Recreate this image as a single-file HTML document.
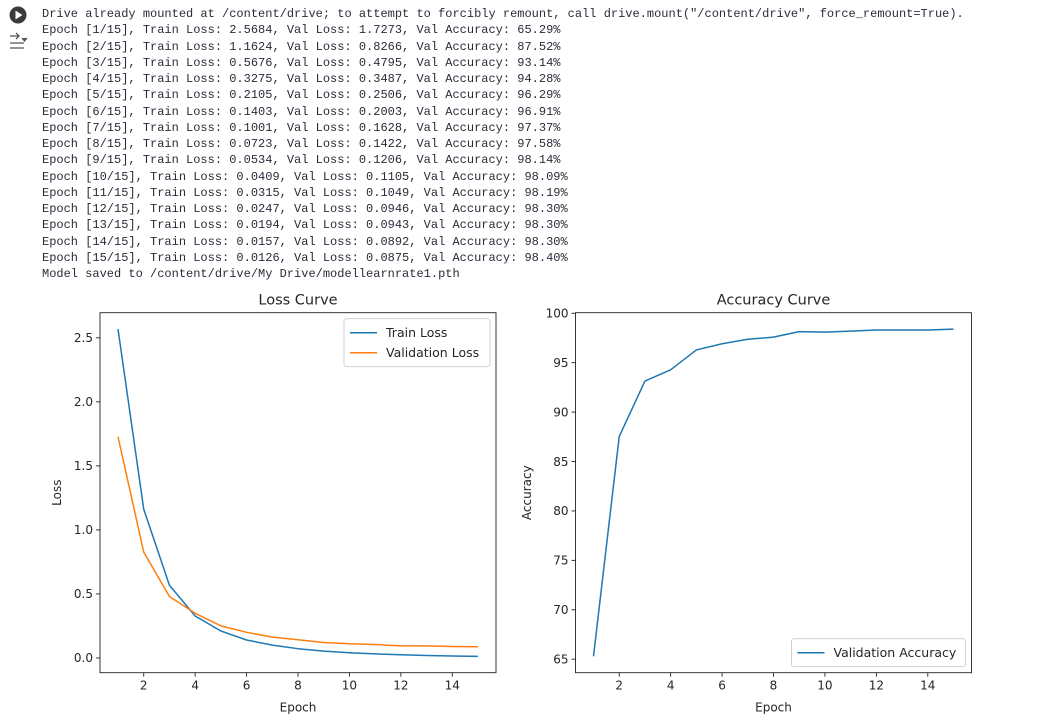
<!DOCTYPE html>
<html><head><meta charset="utf-8">
<style>
html,body{margin:0;padding:0;background:#fff;width:1063px;height:718px;overflow:hidden}
#out{position:absolute;left:42px;top:6px;font-family:"Liberation Mono",monospace;font-size:12px;line-height:16.25px;color:#2b2b3a;white-space:pre}
svg{position:absolute;left:0;top:0}
text{font-family:"DejaVu Sans","Liberation Sans",sans-serif;fill:#262626}
</style></head><body>
<svg width="40" height="60">
<circle cx="18" cy="15" r="8.5" fill="#3a3a3a"/>
<polygon points="15.5,10.5 15.5,19.5 22.5,15" fill="#fff"/>
<g stroke="#555" stroke-width="1.3" fill="none">
<path d="M10 36 H19 M16 33 L19 36 L16 39 M10 43 H24 M10 48 H24"/><path d="M22 38 L24.5 41 L27 38" fill="#555"/></g>
</svg>
<div id="out">Drive already mounted at /content/drive; to attempt to forcibly remount, call drive.mount("/content/drive", force_remount=True).
Epoch [1/15], Train Loss: 2.5684, Val Loss: 1.7273, Val Accuracy: 65.29%
Epoch [2/15], Train Loss: 1.1624, Val Loss: 0.8266, Val Accuracy: 87.52%
Epoch [3/15], Train Loss: 0.5676, Val Loss: 0.4795, Val Accuracy: 93.14%
Epoch [4/15], Train Loss: 0.3275, Val Loss: 0.3487, Val Accuracy: 94.28%
Epoch [5/15], Train Loss: 0.2105, Val Loss: 0.2506, Val Accuracy: 96.29%
Epoch [6/15], Train Loss: 0.1403, Val Loss: 0.2003, Val Accuracy: 96.91%
Epoch [7/15], Train Loss: 0.1001, Val Loss: 0.1628, Val Accuracy: 97.37%
Epoch [8/15], Train Loss: 0.0723, Val Loss: 0.1422, Val Accuracy: 97.58%
Epoch [9/15], Train Loss: 0.0534, Val Loss: 0.1206, Val Accuracy: 98.14%
Epoch [10/15], Train Loss: 0.0409, Val Loss: 0.1105, Val Accuracy: 98.09%
Epoch [11/15], Train Loss: 0.0315, Val Loss: 0.1049, Val Accuracy: 98.19%
Epoch [12/15], Train Loss: 0.0247, Val Loss: 0.0946, Val Accuracy: 98.30%
Epoch [13/15], Train Loss: 0.0194, Val Loss: 0.0943, Val Accuracy: 98.30%
Epoch [14/15], Train Loss: 0.0157, Val Loss: 0.0892, Val Accuracy: 98.30%
Epoch [15/15], Train Loss: 0.0126, Val Loss: 0.0875, Val Accuracy: 98.40%
Model saved to /content/drive/My Drive/modellearnrate1.pth</div>
<svg id="charts" width="1063" height="718" style="top:0"></svg>
<script>
const epochs=[1,2,3,4,5,6,7,8,9,10,11,12,13,14,15];
const trainLoss=[2.5684,1.1624,0.5676,0.3275,0.2105,0.1403,0.1001,0.0723,0.0534,0.0409,0.0315,0.0247,0.0194,0.0157,0.0126];
const valLoss=[1.7273,0.8266,0.4795,0.3487,0.2506,0.2003,0.1628,0.1422,0.1206,0.1105,0.1049,0.0946,0.0943,0.0892,0.0875];
const valAcc=[65.29,87.52,93.14,94.28,96.29,96.91,97.37,97.58,98.14,98.09,98.19,98.30,98.30,98.30,98.40];
const xTicks=[2,4,6,8,10,12,14];
const lossTicks=[0.0,0.5,1.0,1.5,2.0,2.5];
const accTicks=[65,70,75,80,85,90,95,100];
const NS='http://www.w3.org/2000/svg';
const svg=document.getElementById('charts');
function el(t,a,p){const e=document.createElementNS(NS,t);for(const k in a)e.setAttribute(k,a[k]);(p||svg).appendChild(e);return e;}
function ext(arrs){let mn=Infinity,mx=-Infinity;arrs.forEach(a=>a.forEach(v=>{mn=Math.min(mn,v);mx=Math.max(mx,v);}));const m=(mx-mn)*0.05;return[mn-m,mx+m];}
function chart(o){
 const g=el('g',{});
 
 
 const L=o.left,T=312.7,W=396,H=360;
 const xd=ext([epochs]),yd=o.ylim||ext(o.series.map(s=>s.v));
 const sx=v=>L+(v-xd[0])/(xd[1]-xd[0])*W, sy=v=>T+H-(v-yd[0])/(yd[1]-yd[0])*H;
 const tt=el('text',{x:L+W/2,y:T-8,'text-anchor':'middle','font-size':'14.5'},g);tt.textContent=o.title;
 
 xTicks.forEach(t=>{const x=sx(t);el('line',{x1:x,x2:x,y1:T+H,y2:T+H+4,stroke:'#222','stroke-width':0.9},g);
  const tx=el('text',{x:x,y:T+H+17,'text-anchor':'middle','font-size':'12'},g);tx.textContent=t;
  });
 o.yTicks.forEach(t=>{const y=sy(t);el('line',{x1:L,x2:L-4,y1:y,y2:y,stroke:'#222','stroke-width':0.9},g);
  const tx=el('text',{x:L-7,y:y+4.3,'text-anchor':'end','font-size':'12'},g);tx.textContent=o.fmt(t);
  });
 const xl=el('text',{x:L+W/2,y:T+H+39,'text-anchor':'middle','font-size':'12'},g);xl.textContent='Epoch';
 
 const yl=el('text',{x:0,y:0,'text-anchor':'middle','font-size':'12',transform:`translate(${o.ylx},${T+H/2}) rotate(-90)`},g);yl.textContent=o.ylabel;
 
 o.series.forEach(s=>{const p=el('polyline',{points:epochs.map((e,i)=>sx(e)+','+sy(s.v[i])).join(' '),fill:'none',stroke:s.c,'stroke-width':1.5,'stroke-linejoin':'round'},g);
  });
 el('rect',{x:L,y:T,width:W,height:H,fill:'none',stroke:'#222','stroke-width':0.9},g);
 const lg=el('g',{},g);
 const lw=o.legW,lh=8+o.series.length*20,lx=L+W-lw-6,ly=o.legTop?T+6:T+H-lh-6;
 el('rect',{x:lx,y:ly,width:lw,height:lh,rx:2.5,fill:'#fff','fill-opacity':0.8,stroke:'#ccc','stroke-width':0.9},lg);
 o.series.forEach((s,i)=>{const y=ly+14+i*20;el('line',{x1:lx+6,x2:lx+33,y1:y,y2:y,stroke:s.c,'stroke-width':1.5},lg);
  const t=el('text',{x:lx+42,y:y+4.5,'font-size':'12.5'},lg);t.textContent=s.label;
  });
}
chart({name:'loss-chart',left:100,title:'Loss Curve',ylabel:'Loss',ylx:61,yTicks:lossTicks,fmt:t=>t.toFixed(1),legTop:true,legW:146,
 series:[{v:trainLoss,c:'#1f77b4',label:'Train Loss',n:'train-loss-line'},{v:valLoss,c:'#ff7f0e',label:'Validation Loss',n:'val-loss-line'}]});
chart({name:'accuracy-chart',left:575.5,title:'Accuracy Curve',ylabel:'Accuracy',ylx:531,yTicks:accTicks,fmt:t=>t,legTop:false,legW:174,
 series:[{v:valAcc,c:'#1f77b4',label:'Validation Accuracy',n:'val-accuracy-line'}]});
</script>
</body></html>
